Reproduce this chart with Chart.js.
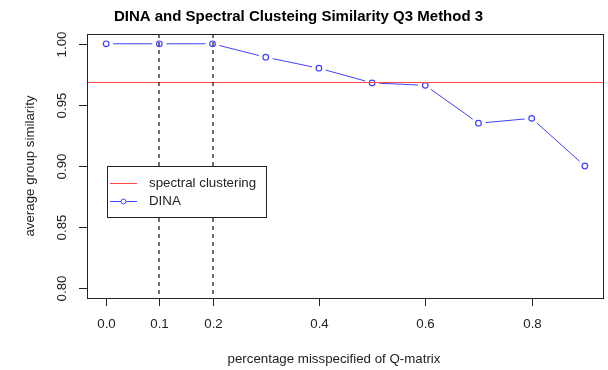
<!DOCTYPE html>
<html>
<head>
<meta charset="utf-8">
<script src="https://cdn.jsdelivr.net/npm/chart.js@4/dist/chart.umd.min.js"></script>
<style>
  html, body { margin: 0; padding: 0; background: #fff; }
  #wrap { width: 608px; height: 370px; }
</style>
</head>
<body>
<div id="wrap"><canvas id="c" width="608" height="370"></canvas></div>
<script>
// Proportion of misspecified Q-matrix entries
const misspecRates = [0.0, 0.1, 0.2, 0.3, 0.4, 0.5, 0.6, 0.7, 0.8, 0.9];
// Average group similarity of the DINA classification at each rate
const dinaSimilarity = [1.000, 1.000, 1.000, 0.989, 0.980, 0.968, 0.966, 0.935, 0.939, 0.900];
// Spectral clustering reference level (does not depend on the rate)
const spectralSimilarity = 0.969;
// Reference rates marked with dashed vertical lines
const markedRates = [0.1, 0.2];
// Axis tick labels
const xTickValues = [0.0, 0.1, 0.2, 0.4, 0.6, 0.8];
const yTickValues = [0.80, 0.85, 0.90, 0.95, 1.00];

const titleText = 'DINA and Spectral Clusteing Similarity Q3 Method 3';
const xTitle = 'percentage misspecified of Q-matrix';
const yTitle = 'average group similarity';
const legendLabels = ['spectral clustering', 'DINA'];

const FONT = '"Liberation Sans", Arial, Helvetica, sans-serif';
const BLUE = '#4040ff';
const RED = '#ff4a4a';

const basePlot = {
  id: 'basePlot',
  beforeDatasetsDraw(chart) {
    // type "b" style: line segments that stop short of each point
    const ctx = chart.ctx;
    const pts = chart.getDatasetMeta(0).data;
    const gap = 7;
    ctx.save();
    ctx.strokeStyle = BLUE;
    ctx.lineWidth = 1;
    for (let i = 0; i < pts.length - 1; i++) {
      const a = pts[i], b = pts[i + 1];
      const dx = b.x - a.x, dy = b.y - a.y;
      const len = Math.hypot(dx, dy);
      if (len <= 2 * gap) continue;
      const ux = dx / len, uy = dy / len;
      ctx.beginPath();
      ctx.moveTo(a.x + ux * gap, a.y + uy * gap);
      ctx.lineTo(b.x - ux * gap, b.y - uy * gap);
      ctx.stroke();
    }
    ctx.restore();
  },
  afterDatasetsDraw(chart) {
    const ctx = chart.ctx;
    const area = chart.chartArea;
    const xs = chart.scales.x, ys = chart.scales.y;
    ctx.save();
    // spectral clustering reference line
    const yr = Math.round(ys.getPixelForValue(spectralSimilarity)) + 0.5;
    ctx.strokeStyle = RED;
    ctx.lineWidth = 1.2;
    ctx.beginPath();
    ctx.moveTo(area.left, yr);
    ctx.lineTo(area.right, yr);
    ctx.stroke();
    // dashed markers
    ctx.strokeStyle = '#111';
    ctx.lineWidth = 1.2;
    ctx.setLineDash([4, 4]);
    markedRates.forEach(v => {
      const x = Math.round(xs.getPixelForValue(v));
      ctx.beginPath();
      ctx.moveTo(x, area.top);
      ctx.lineTo(x, area.bottom);
      ctx.stroke();
    });
    ctx.restore();
  },
  afterDraw(chart) {
    const ctx = chart.ctx;
    const area = chart.chartArea;
    const xs = chart.scales.x, ys = chart.scales.y;
    ctx.save();
    // plot frame
    ctx.strokeStyle = '#222';
    ctx.lineWidth = 1;
    ctx.strokeRect(Math.round(area.left) + 0.5, Math.round(area.top) + 0.5,
                   Math.round(area.right - area.left) - 1, Math.round(area.bottom - area.top));
    // x axis ticks and labels
    ctx.fillStyle = '#222';
    ctx.font = '13.3px ' + FONT;
    ctx.textAlign = 'center';
    ctx.textBaseline = 'middle';
    xTickValues.forEach(v => {
      const x = Math.round(xs.getPixelForValue(v)) + 0.5;
      ctx.beginPath();
      ctx.moveTo(x, area.bottom);
      ctx.lineTo(x, area.bottom + 8);
      ctx.stroke();
      ctx.fillText(v.toFixed(1), x, area.bottom + 26);
    });
    // y axis ticks and labels (rotated)
    yTickValues.forEach(v => {
      const y = Math.round(ys.getPixelForValue(v)) + 0.5;
      ctx.beginPath();
      ctx.moveTo(area.left - 8, y);
      ctx.lineTo(area.left, y);
      ctx.stroke();
      ctx.save();
      ctx.translate(area.left - 25, y);
      ctx.rotate(-Math.PI / 2);
      ctx.fillText(v.toFixed(2), 0, 0);
      ctx.restore();
    });
    // axis titles
    ctx.fillText(xTitle, 334, 359);
    ctx.save();
    ctx.translate(30, (area.top + area.bottom) / 2);
    ctx.rotate(-Math.PI / 2);
    ctx.fillText(yTitle, 0, 0);
    ctx.restore();
    // main title
    ctx.fillStyle = '#000';
    ctx.font = 'bold 15px ' + FONT;
    ctx.fillText(titleText, 298.5, 17);

    // legend
    const lx = 107, ly = 166, lw = 159, lh = 51;
    ctx.fillStyle = '#fff';
    ctx.fillRect(lx, ly, lw, lh);
    ctx.strokeStyle = '#222';
    ctx.strokeRect(lx + 0.5, ly + 0.5, lw, lh);
    const rows = [ly + 17.5, ly + 35.5];
    ctx.lineWidth = 1;
    ctx.strokeStyle = RED;
    ctx.beginPath();
    ctx.moveTo(lx + 3, rows[0]);
    ctx.lineTo(lx + 30, rows[0]);
    ctx.stroke();
    ctx.strokeStyle = BLUE;
    ctx.beginPath();
    ctx.moveTo(lx + 3, rows[1]);
    ctx.lineTo(lx + 30, rows[1]);
    ctx.stroke();
    ctx.fillStyle = '#fff';
    ctx.beginPath();
    ctx.arc(lx + 16.5, rows[1], 2.5, 0, Math.PI * 2);
    ctx.fill();
    ctx.stroke();
    ctx.fillStyle = '#222';
    ctx.font = '13.3px ' + FONT;
    ctx.textAlign = 'left';
    ctx.fillText(legendLabels[0], lx + 42, rows[0]);
    ctx.fillText(legendLabels[1], lx + 42, rows[1]);
    ctx.restore();
  }
};

new Chart(document.getElementById('c'), {
  type: 'scatter',
  data: {
    datasets: [{
      label: legendLabels[1],
      data: misspecRates.map((x, i) => ({ x: x, y: dinaSimilarity[i] })),
      showLine: false,
      pointStyle: 'circle',
      pointRadius: 2.8,
      pointHoverRadius: 2.8,
      pointBorderWidth: 1.2,
      borderColor: BLUE,
      backgroundColor: 'rgba(255,255,255,0)'
    }]
  },
  options: {
    responsive: false,
    animation: false,
    events: [],
    layout: { padding: { left: 87, right: 2, top: 34, bottom: 72 } },
    plugins: { legend: { display: false }, title: { display: false }, tooltip: { enabled: false } },
    scales: {
      x: { type: 'linear', min: -0.036, max: 0.936, display: false },
      y: { type: 'linear', min: 0.792, max: 1.008, display: false }
    }
  },
  plugins: [basePlot]
});
</script>
</body>
</html>
